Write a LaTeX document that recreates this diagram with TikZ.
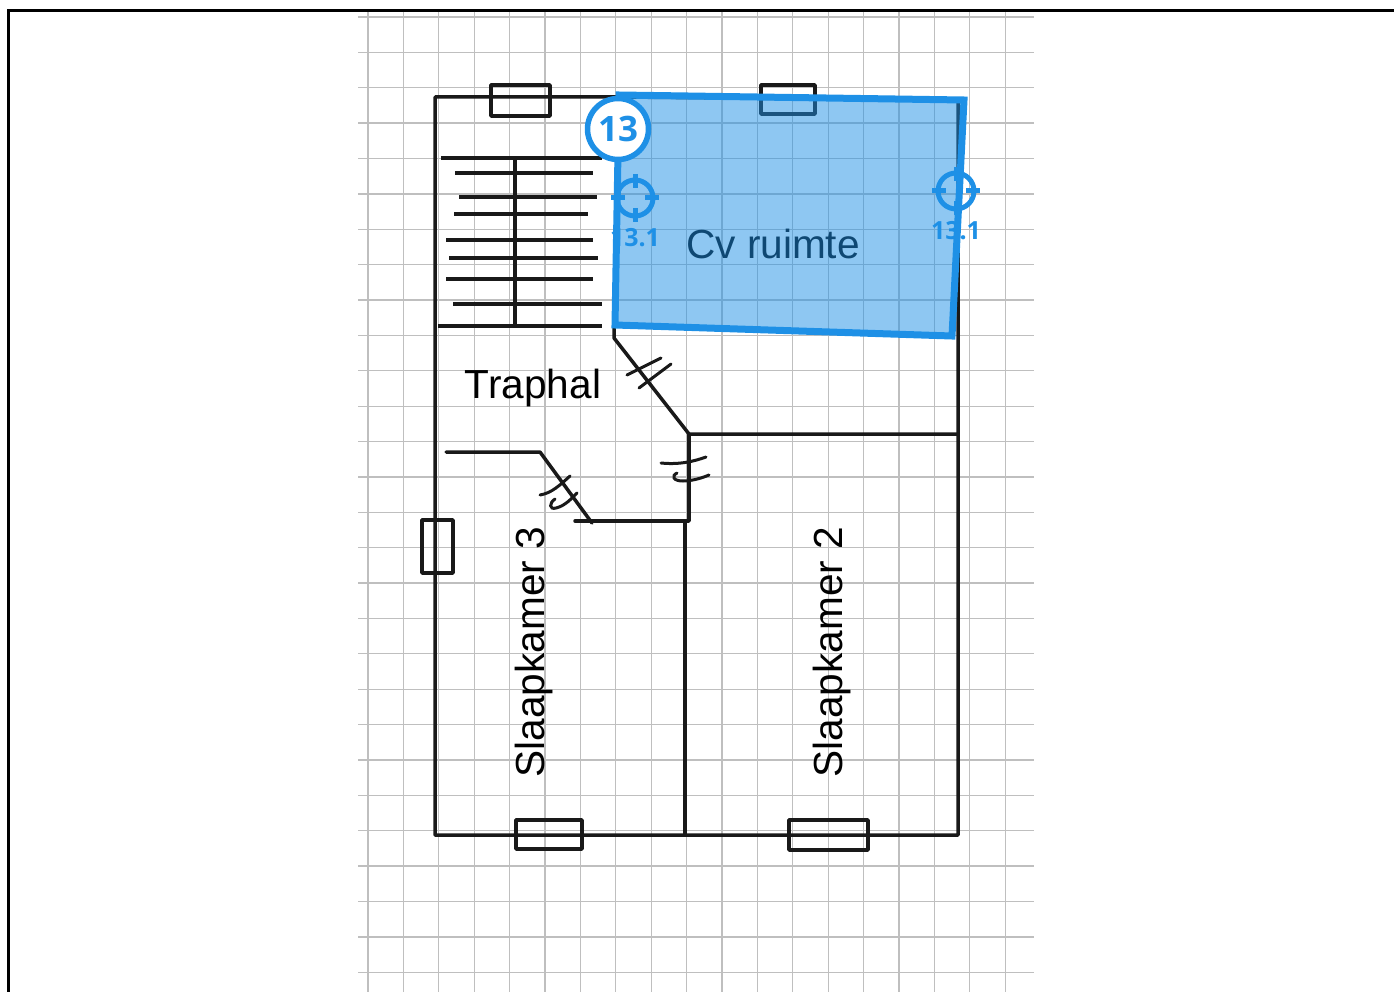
\documentclass[tikz,border=0pt]{standalone}
\usepackage{xcolor}
\usepackage{fontspec}
\setmainfont{Liberation Sans}
\newfontfamily\badgefont{Open Sans}
\definecolor{zoneblue}{HTML}{1E90E6}
\tikzset{
    gridline/.style={draw=gray!50, line width=1.3pt},
    wall/.style={draw=black!90, line width=3.5pt, line join=round, line cap=round},
    tread/.style={draw=black!90, line width=3.5pt},
    hatch/.style={draw=black!90, line width=3pt, line cap=round},
    room/.style={font=\fontsize{40.6}{48}\selectfont, inner sep=0pt},
    target/.style={draw=zoneblue, line width=5pt},
    targetlabel/.style={text=zoneblue, inner sep=0pt, font=\badgefont\bfseries\fontsize{25}{30}\selectfont},
}
\begin{document}
\begin{tikzpicture}[x=1pt, y=-1pt]
        \useasboundingbox (0,0) rectangle (1394,992);
        \draw[line width=3pt] (8,992) -- (8,11) -- (1394,11);
        \foreach \i in {0,...,18}
        \draw[gridline] (368+35.4*\i,12) -- (368+35.4*\i,992);
        \foreach \i in {0,...,27}
        \draw[gridline] (358,17+35.38*\i) -- (1034,17+35.38*\i);
        \draw[wall] (435,97) -- (435,835) -- (958,835) -- (958,100) -- (619,97) -- cycle;
        \foreach \xa/\ya/\xb/\yb in {491/85/550/116, 761/85/815/114, 516/820/582/849, 789/820/868/850, 422/520/453/573}
        \draw[wall] (\xa,\ya) rectangle (\xb,\yb);
        \draw[wall] (614,326) -- (614,338) -- (689,434) -- (958,434);
        \draw[wall] (689,434) -- (689,521) -- (575,521);
        \draw[wall] (685,521) -- (685,835);
        \draw[wall] (446,452) -- (540,452) -- (592,523);
        \foreach \xa/\xb/\y in {441/602/158, 455/593/173, 459/597/197, 454/588/214, 446/593/240, 449/598/258, 446/593/279, 453/602/304, 438/602/326}
        \draw[tread] (\xa,\y) -- (\xb,\y);
        \draw[tread] (515,158) -- (515,326);
        \draw[hatch] (627,375) -- (661,358);
        \draw[hatch] (639,388) -- (671,364);
        \draw[hatch] (540,495) .. controls (552,493) and (560,485) .. (570,476);
        \draw[hatch] (555,499) .. controls (549,503) and (549,510) .. (556,508) .. controls (565,506) and (572,498) .. (577,493);
        \draw[hatch] (661,463) .. controls (680,465) and (695,461) .. (706,457);
        \draw[hatch] (677,473) .. controls (671,476) and (673,481) .. (683,481) .. controls (692,481) and (702,478) .. (709,475);
        \node[room] (traphal) at (533,388) {Traphal};
        \node[room] (cvruimte) at (773,244) {Cv ruimte};
        \node[room, rotate=90] (slaapkamer3) at (534,652) {Slaapkamer 3};
        \node[room, rotate=90] (slaapkamer2) at (832,652) {Slaapkamer 2};
        \filldraw[fill=zoneblue, fill opacity=.5, draw=zoneblue, line width=7pt, miter limit=10] (619,95) -- (964,100) -- (952,336) -- (615,325) -- cycle;
        \foreach \cx/\cy/\ylab in {635/198/238, 956/191/231} {
        \draw[target] (\cx,\cy) circle (18);
        \draw[target] (\cx-24,\cy) -- (\cx-10,\cy) (\cx+10,\cy) -- (\cx+24,\cy) (\cx,\cy-24) -- (\cx,\cy-10) (\cx,\cy+10) -- (\cx,\cy+24);
        \node[targetlabel] at (\cx,\ylab) {13.1};
        }
        \node[circle, draw=zoneblue, fill=white, line width=5.5pt, minimum size=61pt, inner sep=0pt, text=zoneblue, font=\badgefont\bfseries\fontsize{35}{40}\selectfont] (badge) at (618,129) {13};
    \end{tikzpicture}
\end{document}
